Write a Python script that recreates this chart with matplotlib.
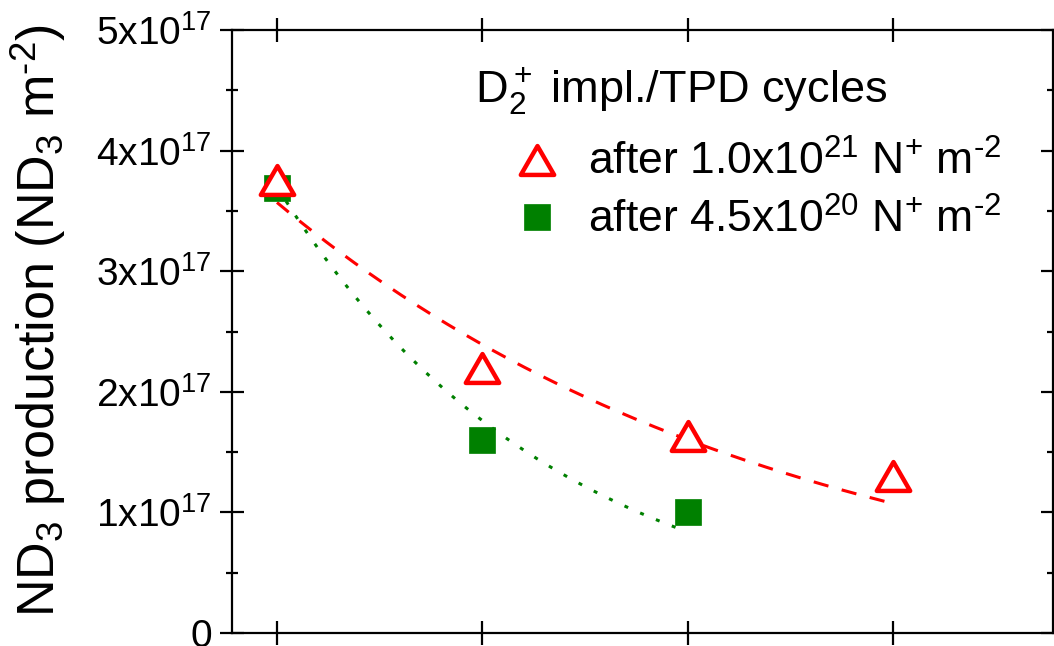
import numpy as np
import matplotlib
matplotlib.use("Agg")
import matplotlib.pyplot as plt
from matplotlib.lines import Line2D
from matplotlib.path import Path

plt.rcParams['font.family'] = ['Liberation Sans', 'DejaVu Sans']
plt.rcParams['mathtext.fontset'] = 'custom'
plt.rcParams['mathtext.rm'] = 'Liberation Sans'
plt.rcParams['mathtext.it'] = 'Liberation Sans:italic'
plt.rcParams['mathtext.bf'] = 'Liberation Sans:bold'

# ---- data ----
cycles = [1, 2, 3, 4]
nd3_high = [3.76e17, 2.20e17, 1.63e17, 1.30e17]     # after 1.0x10^21 N+ m^-2
cycles_low = [1, 2, 3]
nd3_low = [3.69e17, 1.60e17, 1.00e17]               # after 4.5x10^20 N+ m^-2

# exponential fit parameters
red_fit_amp, red_fit_ratio, red_fit_range = 3.57e17, 0.67, (1.0, 4.0)
green_fit_amp, green_fit_ratio, green_fit_range = 3.70e17, 0.476, (1.0, 2.95)

ytick_vals = [0, 1e17, 2e17, 3e17, 4e17, 5e17]
ytick_labels = ['0', r'1x10$^{17}$', r'2x10$^{17}$', r'3x10$^{17}$', r'4x10$^{17}$', r'5x10$^{17}$']

HY = '\u2010'
label_high = r'after 1.0x10$^{21}$ N$^{+}$ m$^{' + HY + r'2}$'
label_low = r'after 4.5x10$^{20}$ N$^{+}$ m$^{' + HY + r'2}$'
legend_title = r'D$_2^+$ impl./TPD cycles'
y_label = r'ND$_3$ production (ND$_3$ m$^{' + HY + r'2}$)'

RED = '#FF0000'
GREEN = '#008000'

tri = Path([(-0.5, -0.433), (0.5, -0.433), (0.0, 0.433), (-0.5, -0.433)],
           [Path.MOVETO, Path.LINETO, Path.LINETO, Path.CLOSEPOLY])

fig = plt.figure(figsize=(10.54, 6.46), dpi=100)
ax = fig.add_axes([232/1054, 13/646, (1053-232)/1054, (633-30)/646])

xr = np.linspace(*red_fit_range, 200)
ax.plot(xr, red_fit_amp * red_fit_ratio ** (xr - 1), color=RED, lw=2.2,
        dashes=(5, 4.5), zorder=2)
xg = np.linspace(*green_fit_range, 200)
ax.plot(xg, green_fit_amp * green_fit_ratio ** (xg - 1), color=GREEN, lw=2.2,
        dashes=(1.3, 4.3), zorder=2)

tri_style = dict(linestyle='none', marker=tri, ms=24, mfc='white', mec=RED, mew=3.2)
sq_style = dict(linestyle='none', marker='s', ms=19, mfc=GREEN, mec=GREEN, mew=0.5)

ax.plot(cycles_low, nd3_low, zorder=3, **sq_style)
ax.plot(cycles, nd3_high, zorder=4, **tri_style)

ax.set_xlim(0.781, 4.779)
ax.set_ylim(0, 5e17)
ax.set_xticks(cycles)
ax.set_xticklabels([])
ax.set_yticks(ytick_vals)
ax.set_yticklabels(ytick_labels)
ax.set_yticks(np.arange(0.5e17, 5e17, 1e17), minor=True)

for s in ax.spines.values():
    s.set_linewidth(1.6)
ax.tick_params(axis='both', which='major', direction='inout', length=17, width=1.6,
               top=True, right=True, labelsize=28, pad=6)
ax.tick_params(axis='y', which='minor', direction='inout', length=8, width=1.6,
               right=True)

ax_h = 633 - 30
ax_w = 1053 - 232
ax.set_ylabel(y_label, fontsize=37.5)
ax.yaxis.set_label_coords((68-232)/ax_w, (633-321)/ax_h)

F = 32
handles = [Line2D([], [], **tri_style), Line2D([], [], **sq_style)]
leg = ax.legend(handles, [label_high, label_low], loc='upper left',
                bbox_to_anchor=((510-232)/ax_w, (633-141)/ax_h),
                frameon=False, fontsize=F, handlelength=1.2, handletextpad=0.55,
                labelspacing=0.33, borderpad=0, borderaxespad=0)
ax.text((475-232)/ax_w, (633-90)/ax_h, legend_title, transform=ax.transAxes,
        fontsize=32.5, ha='left', va='center')

fig.savefig('out.png', dpi=100)
